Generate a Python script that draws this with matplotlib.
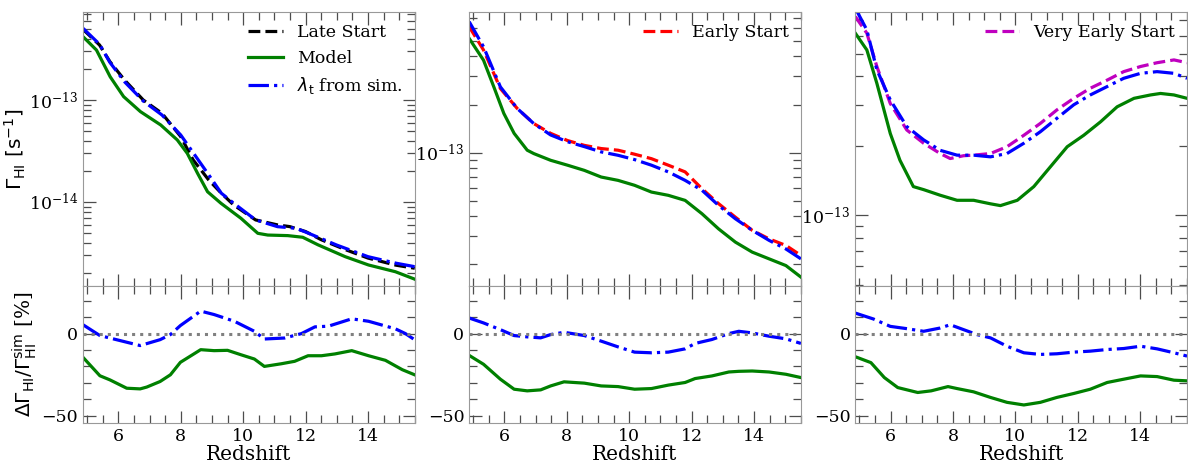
import matplotlib
matplotlib.use('Agg')
import matplotlib.pyplot as plt
from matplotlib.ticker import MultipleLocator, LogLocator, NullFormatter

plt.rcParams['font.family'] = 'serif'
plt.rcParams['font.serif'] = ['DejaVu Serif']
plt.rcParams['mathtext.fontset'] = 'dejavusans'
plt.rcParams['lines.solid_joinstyle'] = 'round'
plt.rcParams['lines.dash_joinstyle'] = 'round'

# ---- panel 1: Late Start ----
z_late = [4.87, 5.4, 5.73, 6.2, 6.8, 7.4, 8.0, 8.4, 8.9, 9.3, 9.7, 10.4, 11.1, 11.5, 12.0, 12.5, 13.3, 14.0, 14.9, 15.5]
g_late = [4.93e-13, 3.46e-13, 2.38e-13, 1.57e-13, 1.00e-13, 7.40e-14, 4.38e-14, 2.58e-14, 1.64e-14, 1.22e-14,
          9.33e-15, 6.67e-15, 5.96e-15, 5.73e-15, 5.13e-15, 4.27e-15, 3.39e-15, 2.82e-15, 2.40e-15, 2.24e-15]
z_lam1 = [4.87, 5.4, 5.73, 6.2, 6.8, 7.4, 8.0, 8.3, 8.9, 9.3, 9.7, 10.4, 11.1, 11.7, 12.1, 13.0, 14.0, 14.9, 15.5]
g_lam1 = [5.05e-13, 3.52e-13, 2.34e-13, 1.51e-13, 9.77e-14, 7.13e-14, 4.54e-14, 3.36e-14, 1.84e-14, 1.22e-14,
          9.71e-15, 6.67e-15, 5.73e-15, 5.52e-15, 4.93e-15, 3.78e-15, 2.91e-15, 2.51e-15, 2.32e-15]
z_mod1 = [4.87, 5.3, 5.74, 6.17, 6.71, 7.36, 7.89, 8.21, 8.54, 8.86, 9.29, 9.93, 10.47, 10.79, 11.43, 11.91,
          12.4, 13.27, 14.02, 14.88, 15.5]
g_mod1 = [4.18e-13, 3.09e-13, 1.69e-13, 1.08e-13, 7.69e-14, 5.69e-14, 4.06e-14, 3.00e-14, 1.91e-14, 1.26e-14,
          9.71e-15, 6.92e-15, 4.93e-15, 4.74e-15, 4.68e-15, 4.51e-15, 3.80e-15, 2.91e-15, 2.41e-15, 2.07e-15, 1.75e-15]

zr_lam1 = [4.86, 5.41, 6.70, 7.34, 7.67, 7.99, 8.64, 9.07, 9.72, 10.36, 10.68, 11.33, 11.87, 12.30, 12.73,
           13.48, 14.02, 14.88, 15.2, 15.57]
r_lam1 = [5.5, -1.2, -7.3, -3.7, -0.6, 4.9, 13.7, 11.6, 7.5, 1.4, -3.3, -2.7, 0.0, 4.1, 4.5, 9.0, 7.5, 2.9, 0.0, -4.7]
zr_mod1 = [4.86, 5.41, 5.73, 6.27, 6.70, 6.91, 7.34, 7.67, 7.99, 8.21, 8.64, 9.07, 9.5, 9.93, 10.36, 10.68,
           11.22, 11.65, 12.08, 12.51, 12.94, 13.48, 14.02, 14.56, 15.1, 15.57]
r_mod1 = [-14.3, -25.7, -28.2, -33.3, -33.7, -32.6, -29.2, -25.1, -17.5, -14.9, -9.8, -10.4, -10.2, -12.9,
          -15.5, -20.0, -18.4, -16.9, -13.5, -13.5, -12.4, -10.4, -13.5, -16.3, -22.0, -25.7]

# ---- panel 2: Early Start ----
z_p2 = [4.87, 5.33, 5.87, 6.41, 6.94, 7.48, 8.02, 8.56, 9.1, 9.64, 10.17, 10.71, 11.25, 11.79, 12.33, 12.86,
        13.4, 13.94, 14.48, 15.02, 15.5]
g_early = [6.15e-13, 4.39e-13, 2.52e-13, 1.89e-13, 1.52e-13, 1.32e-13, 1.19e-13, 1.11e-13, 1.06e-13, 1.035e-13,
           9.77e-14, 9.16e-14, 8.34e-14, 7.57e-14, 5.94e-14, 4.79e-14, 3.94e-14, 3.26e-14, 2.88e-14, 2.62e-14, 2.27e-14]
g_lam2 = [6.61e-13, 4.60e-13, 2.58e-13, 1.89e-13, 1.52e-13, 1.29e-13, 1.17e-13, 1.09e-13, 1.01e-13, 9.62e-14,
          9.04e-14, 8.34e-14, 7.57e-14, 6.70e-14, 5.81e-14, 4.67e-14, 3.85e-14, 3.26e-14, 2.82e-14, 2.49e-14, 2.16e-14]
z_mod2 = [4.87, 5.33, 5.66, 5.98, 6.31, 6.73, 6.94, 7.48, 8.02, 8.56, 9.1, 9.64, 10.17, 10.71, 11.25, 11.79,
          12.33, 12.86, 13.4, 13.94, 14.48, 15.02, 15.5]
g_mod2 = [5.19e-13, 3.79e-13, 2.58e-13, 1.76e-13, 1.32e-13, 1.035e-13, 9.86e-14, 8.95e-14, 8.34e-14, 7.74e-14,
          7.03e-14, 6.70e-14, 6.24e-14, 5.66e-14, 5.40e-14, 5.02e-14, 4.14e-14, 3.33e-14, 2.75e-14, 2.38e-14,
          2.16e-14, 1.96e-14, 1.66e-14]

zr_p2 = [4.87, 5.33, 5.87, 6.31, 6.73, 7.16, 7.48, 7.91, 8.56, 9.1, 9.64, 10.17, 10.71, 11.25, 11.79, 12.11,
         12.65, 13.19, 13.51, 13.94, 14.48, 15.02, 15.5]
r_lam2 = [9.5, 6.5, 2.4, -1.2, -2.0, -2.6, -0.6, 0.8, -1.2, -4.6, -8.1, -11.3, -11.7, -11.3, -9.3, -6.0, -3.6,
          0.0, 1.4, 0.4, -1.6, -3.2, -6.0]
r_mod2 = [-13.3, -18.7, -27.8, -33.9, -34.9, -34.3, -31.9, -29.4, -30.2, -31.9, -32.3, -33.9, -33.5, -31.4,
          -29.8, -27.4, -25.8, -23.4, -23.0, -22.8, -23.4, -24.8, -26.8]

# ---- panel 3: Very Early Start ----
z_vearly = [4.87, 5.24, 5.56, 5.99, 6.52, 7.06, 7.59, 7.91, 8.34, 8.66, 9.2, 9.73, 10.27, 10.8, 11.33, 11.87,
            12.4, 12.94, 13.47, 14.01, 14.54, 15.08, 15.5]
g_vearly = [7.26e-13, 6.15e-13, 4.41e-13, 3.05e-13, 2.34e-13, 2.05e-13, 1.85e-13, 1.76e-13, 1.81e-13, 1.82e-13,
            1.85e-13, 1.98e-13, 2.22e-13, 2.50e-13, 2.86e-13, 3.21e-13, 3.55e-13, 3.85e-13, 4.19e-13, 4.41e-13,
            4.58e-13, 4.71e-13, 4.58e-13]
z_lam3 = [4.9, 5.24, 5.56, 5.99, 6.52, 7.06, 7.59, 8.13, 8.66, 9.2, 9.73, 10.27, 10.8, 11.33, 11.87, 12.4,
          12.94, 13.47, 14.01, 14.54, 15.08, 15.5]
g_lam3 = [7.76e-13, 6.35e-13, 4.27e-13, 3.16e-13, 2.42e-13, 2.12e-13, 1.91e-13, 1.82e-13, 1.82e-13, 1.79e-13,
          1.85e-13, 2.05e-13, 2.30e-13, 2.63e-13, 3.01e-13, 3.32e-13, 3.61e-13, 3.92e-13, 4.12e-13, 4.19e-13,
          4.12e-13, 3.92e-13]
z_mod3 = [4.87, 5.24, 5.56, 5.99, 6.3, 6.73, 7.06, 7.59, 8.13, 8.66, 9.2, 9.52, 10.06, 10.59, 11.12, 11.66,
          12.19, 12.73, 13.26, 13.8, 14.33, 14.65, 15.08, 15.5]
g_mod3 = [6.15e-13, 5.20e-13, 3.73e-13, 2.26e-13, 1.73e-13, 1.33e-13, 1.29e-13, 1.22e-13, 1.16e-13, 1.16e-13,
          1.12e-13, 1.10e-13, 1.16e-13, 1.33e-13, 1.62e-13, 1.98e-13, 2.22e-13, 2.54e-13, 2.95e-13, 3.21e-13,
          3.32e-13, 3.37e-13, 3.32e-13, 3.21e-13]

zr_lam3 = [4.87, 5.45, 5.99, 6.52, 7.06, 7.59, 7.91, 8.34, 8.77, 9.2, 9.73, 10.27, 10.8, 11.33, 11.87, 12.4,
           12.94, 13.47, 14.01, 14.54, 15.08, 15.5]
r_lam3 = [12.5, 8.9, 4.4, 3.0, 1.4, 3.4, 5.4, 2.4, -0.6, -2.6, -7.7, -11.7, -12.7, -12.3, -11.3, -10.7, -9.7,
          -9.1, -7.7, -9.3, -11.7, -13.7]
zr_mod3 = [4.87, 5.37, 5.8, 6.23, 6.87, 7.3, 7.84, 8.13, 8.66, 9.2, 9.73, 10.27, 10.8, 11.33, 11.87, 12.4,
           12.94, 13.47, 14.01, 14.54, 15.08, 15.5]
r_mod3 = [-14.1, -17.7, -26.8, -32.9, -35.9, -34.9, -32.3, -33.5, -35.5, -38.9, -41.9, -43.5, -41.9, -38.9,
          -36.5, -33.9, -29.8, -27.8, -25.8, -26.2, -28.4, -28.8]

ylims_top = [(1.5e-15, 7.3e-13), (1.46e-14, 7.6e-13), (4.93e-14, 7.6e-13)]

fig = plt.figure(figsize=(11.88, 4.61), dpi=100)
gs = fig.add_gridspec(2, 3, height_ratios=[2, 1], hspace=0, wspace=0.164,
                      left=0.0699, right=0.9992, top=0.974, bottom=0.0824)

lw = 2.3
tops, bots = [], []
for i in range(3):
    at = fig.add_subplot(gs[0, i])
    ab = fig.add_subplot(gs[1, i], sharex=at)
    tops.append(at)
    bots.append(ab)

# top panels
a = tops[0]
a.plot(z_late, g_late, 'k--', lw=lw, label='Late Start')
a.plot(z_mod1, g_mod1, color='green', lw=lw, label='Model')
a.plot(z_lam1, g_lam1, 'b-.', lw=lw, label=r'$\lambda_{\rm t}$ from sim.')
a.legend(loc='upper right', frameon=False, fontsize=12.5, borderaxespad=0.3)

a = tops[1]
a.plot(z_p2, g_early, 'r--', lw=lw, label='Early Start')
a.plot(z_mod2, g_mod2, color='green', lw=lw)
a.plot(z_p2, g_lam2, 'b-.', lw=lw)
a.legend(loc='upper right', frameon=False, fontsize=12.5, borderaxespad=0.3)

a = tops[2]
a.plot(z_vearly, g_vearly, 'm--', lw=lw, label='Very Early Start')
a.plot(z_mod3, g_mod3, color='green', lw=lw)
a.plot(z_lam3, g_lam3, 'b-.', lw=lw)
a.legend(loc='upper right', frameon=False, fontsize=12.5, borderaxespad=0.3)

# residual panels
bots[0].plot(zr_mod1, r_mod1, color='green', lw=lw)
bots[0].plot(zr_lam1, r_lam1, 'b-.', lw=lw)
bots[1].plot(zr_p2, r_mod2, color='green', lw=lw)
bots[1].plot(zr_p2, r_lam2, 'b-.', lw=lw)
bots[2].plot(zr_mod3, r_mod3, color='green', lw=lw)
bots[2].plot(zr_lam3, r_lam3, 'b-.', lw=lw)

for i in range(3):
    at, ab = tops[i], bots[i]
    at.set_yscale('log')
    at.set_ylim(*ylims_top[i])
    at.yaxis.set_major_locator(LogLocator(base=10))
    at.yaxis.set_minor_locator(LogLocator(base=10, subs=range(2, 10)))
    at.yaxis.set_minor_formatter(NullFormatter())
    at.tick_params(labelbottom=False)
    ab.axhline(0, color='gray', ls=':', lw=2.2)
    ab.set_ylim(-54.5, 29)
    ab.yaxis.set_major_locator(MultipleLocator(50))
    ab.yaxis.set_minor_locator(MultipleLocator(10))
    ab.set_xlim(4.87, 15.5)
    ab.xaxis.set_major_locator(MultipleLocator(2))
    ab.xaxis.set_minor_locator(MultipleLocator(0.5))
    ab.set_xlabel('Redshift', fontsize=14.5, labelpad=0)
    for a in (at, ab):
        for s in a.spines.values():
            s.set_edgecolor('0.6')
        a.tick_params(which='both', direction='in', top=True, right=True,
                      color='0.3', labelsize=12.5, width=0.9)
        a.tick_params(which='major', length=9)
        a.tick_params(which='minor', length=6)

tops[0].set_ylabel(r'$\Gamma_{\rm HI}\ [\mathrm{s}^{-1}]$', fontsize=14.5, labelpad=1)
bots[0].set_ylabel(r'$\Delta\Gamma_{\rm HI}/\Gamma_{\rm HI}^{\rm sim}$ [%]', fontsize=14.5, labelpad=2)

fig.savefig('out.png', dpi=100)
